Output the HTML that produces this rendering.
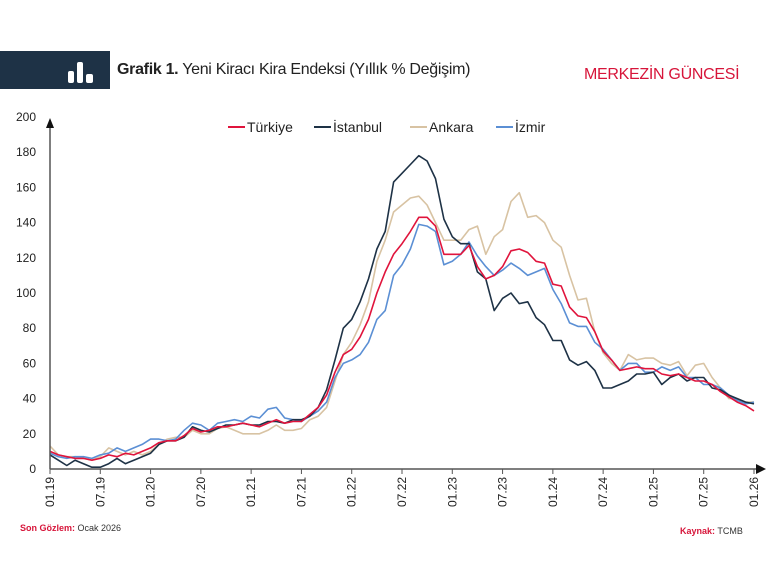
<!DOCTYPE html>
<html><head><meta charset="utf-8"><style>
body{margin:0;width:768px;height:576px;background:#fff;font-family:"Liberation Sans",sans-serif;overflow:hidden;position:relative}
.hdr{position:absolute;left:0;top:51px;width:110px;height:38px;background:#1e3246}
.title{position:absolute;left:117px;top:61px;font-size:16px;color:#222;letter-spacing:-0.3px}
.brand{position:absolute;left:584px;top:66px;font-size:16px;color:#d7153a;letter-spacing:-0.3px}
.foot{position:absolute;font-size:9px;color:#333}
.foot b{color:#d7153a}
</style></head><body>
<div class="hdr"><svg width="110" height="38"><rect x="68" y="20" width="6" height="12" rx="2" fill="#fff"/><rect x="77" y="11" width="6" height="21" rx="2" fill="#fff"/><rect x="86" y="23" width="7" height="9" rx="2" fill="#fff"/></svg></div>
<div class="title"><b>Grafik 1.</b> Yeni Kiracı Kira Endeksi (Yıllık % Değişim)</div>
<div class="brand">MERKEZİN GÜNCESİ</div>
<svg id="c" width="768" height="576" style="position:absolute;left:0;top:0"></svg>
<div class="foot" style="left:20px;top:523px"><b>Son Gözlem:</b> Ocak 2026</div>
<div class="foot" style="left:680px;top:526px"><b>Kaynak:</b> TCMB</div>
<script>
const T=[10,8,7,6,6,5,6,8,7,9,8,10,12,15,16,16,19,23,21,22,24,24,25,26,25,24,26,28,26,27,27,31,35,42,55,65,68,75,85,100,112,122,128,135,143,143,138,122,122,122,127,115,108,110,115,124,125,123,118,117,105,104,92,87,86,78,67,62,56,57,58,57,57,54,53,54,52,50,50,48,44,41,38,36,33];
const I=[8,5,2,5,3,1,1,3,6,3,5,7,9,14,16,16,18,24,22,21,23,25,25,26,25,25,27,27,26,28,28,30,35,45,62,80,85,95,108,125,135,163,168,173,178,175,165,142,132,128,128,112,108,90,97,100,94,95,86,82,73,73,62,59,61,56,46,46,48,50,54,54,55,48,52,54,50,52,52,46,45,42,40,38,37];
const A=[13,8,7,7,6,5,7,12,10,8,10,8,10,14,17,18,18,22,20,20,23,24,22,20,20,20,22,25,22,22,23,28,30,35,50,65,72,82,95,118,130,146,150,154,155,150,140,130,130,130,136,138,122,132,136,152,157,143,144,140,130,126,110,96,97,78,66,60,56,65,62,63,63,60,59,61,53,59,60,52,46,40,40,38,38];
const Z=[9,7,6,7,7,6,8,9,12,10,12,14,17,17,16,17,22,26,25,22,26,27,28,27,30,29,34,35,29,28,27,30,33,38,52,60,62,65,72,85,90,110,116,125,139,138,135,116,118,122,129,121,115,110,113,117,114,110,112,114,102,94,83,81,81,72,68,62,56,60,60,55,55,58,56,58,52,52,48,48,46,42,39,37,38];
const X0=50,X1=754,Y0=469,K=1.76;
let s='';
for(let v=0;v<=200;v+=20){s+=`<text x="36" y="${Y0-v*K+4}" text-anchor="end" font-size="12" fill="#222">${v}</text>`}
const labs=['01.19','07.19','01.20','07.20','01.21','07.21','01.22','07.22','01.23','07.23','01.24','07.24','01.25','07.25','01.26'];
labs.forEach((l,j)=>{const x=X0+j*(X1-X0)/14;s+=`<line x1="${x}" y1="${Y0}" x2="${x}" y2="${Y0+5}" stroke="#555"/><text transform="translate(${x+4},${Y0+8}) rotate(-90)" text-anchor="end" font-size="12" fill="#222">${l}</text>`});
function pl(d,c){return `<polyline fill="none" stroke="${c}" stroke-width="1.6" stroke-linejoin="round" points="${d.map((v,i)=>(X0+i*(X1-X0)/84).toFixed(1)+','+(Y0-v*K).toFixed(1)).join(' ')}"/>`}
s+=pl(A,'#d8c3a3')+pl(Z,'#5b8fd4')+pl(I,'#1e3246')+pl(T,'#e0143c');
s+=`<line x1="${X0}" y1="${Y0}" x2="758" y2="${Y0}" stroke="#555" stroke-width="1.5"/><polygon points="766,${Y0} 756,${Y0-5} 756,${Y0+5}" fill="#111"/>`;
s+=`<line x1="${X0}" y1="${Y0}" x2="${X0}" y2="126" stroke="#555" stroke-width="1.5"/><polygon points="${X0},118 ${X0-4},128 ${X0+4},128" fill="#111"/>`;
const lg=[['Türkiye','#e0143c',228],['İstanbul','#1e3246',314],['Ankara','#d8c3a3',410],['İzmir','#5b8fd4',496]];
lg.forEach(([n,c,x])=>{s+=`<line x1="${x}" y1="127" x2="${x+17}" y2="127" stroke="${c}" stroke-width="2"/><text x="${x+19}" y="132" font-size="14" fill="#222">${n}</text>`});
document.getElementById('c').innerHTML=s;
</script>
</body></html>
